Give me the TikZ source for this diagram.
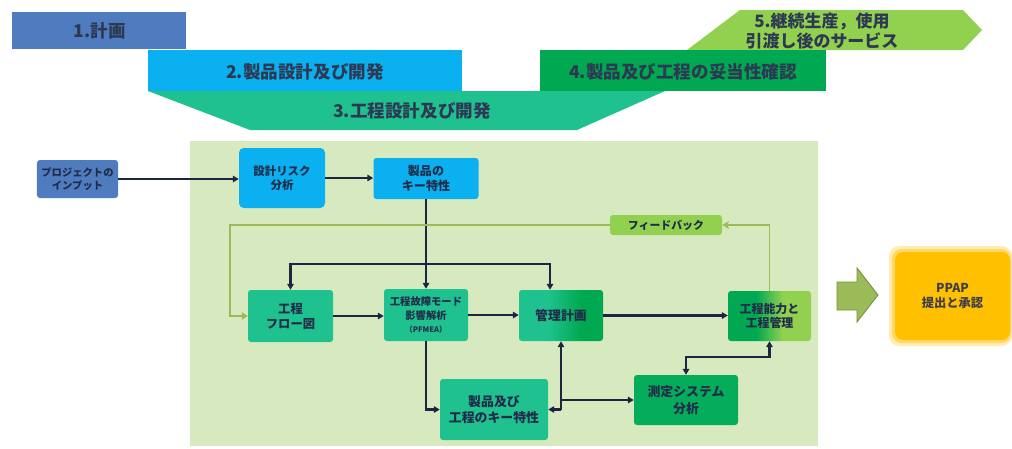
\documentclass[tikz,border=0pt]{standalone}
\usepackage{fontspec}
\setmainfont{Noto Sans CJK JP}
\usetikzlibrary{arrows.meta,calc}
\definecolor{bluea}{HTML}{4F7BBF}
\definecolor{skyb}{HTML}{0AB0F0}
\definecolor{tealc}{HTML}{1FC28F}
\definecolor{greenc}{HTML}{00A851}
\definecolor{lgreen}{HTML}{92D050}
\definecolor{panel}{HTML}{D7EABF}
\definecolor{olive}{HTML}{9BBB59}
\definecolor{oliveb}{HTML}{77933C}
\definecolor{navy}{HTML}{1C2642}
\definecolor{txtc}{HTML}{1F2C4A}
\definecolor{ppapc}{HTML}{FFC000}
\pgfdeclarehorizontalshading{ctrlshade}{100bp}{color(0bp)=(tealc); color(42bp)=(tealc); color(62bp)=(greenc); color(100bp)=(greenc)}
\pgfdeclarehorizontalshading{capshade}{100bp}{color(0bp)=(greenc); color(42bp)=(greenc); color(58bp)=(lgreen); color(100bp)=(lgreen)}
\tikzset{
  box/.style={rounded corners=2.5pt, align=center, text=txtc, inner sep=0pt,
    font=\bfseries\fontsize{9.8}{12.3}\selectfont},
  bigtxt/.style={text=txtc!85!gray, align=center, font=\bfseries\fontsize{15}{18}\selectfont},
  arr/.style={draw=navy, line width=2pt, -{Triangle[length=5pt,width=5.5pt]}},
  fbl/.style={draw=olive, line width=1.6pt},
}
\begin{document}
\begin{tikzpicture}[x=0.03cm,y=-0.03cm]
\useasboundingbox (0,0) rectangle (1012,448);
% phase banners
\fill[tealc] (148,91) -- (665,91) -- (577,130) -- (250,130) -- cycle;
\fill[lgreen] (740,10) -- (963,10) -- (982,30) -- (963,50) -- (687,50) -- cycle;
\fill[bluea] (12,12) rectangle (186,49);
\fill[skyb] (148,50) rectangle (462,91);
\fill[greenc] (540,50) rectangle (826,91);
\node[bigtxt] (p1) at (100,31) {1.計画};
\node[bigtxt] (p2) at (305,72) {2.製品設計及び開発};
\node[bigtxt] (p3) at (412,111) {3.工程設計及び開発};
\node[bigtxt] (p4) at (683,72) {4.製品及び工程の妥当性確認};
\node[bigtxt, font=\bfseries\fontsize{14.5}{17}\selectfont] (p5) at (822,31) {5.継続生産，使用\\引渡し後のサービス};
% panel
\fill[panel] (190,141) rectangle (818,446);
% nodes
\node[box, fill=bluea, minimum width=2.43cm, minimum height=1.14cm, font=\bfseries\fontsize{8.8}{11}\selectfont] (input) at (77.5,179) {プロジェクトの\\インプット};
\node[box, fill=skyb, rounded corners=4pt, minimum width=2.58cm, minimum height=1.8cm] (risk) at (282,178) {設計リスク\\分析};
\node[box, fill=skyb, minimum width=3.15cm, minimum height=1.23cm, font=\bfseries\fontsize{10.3}{12.8}\selectfont] (keyp) at (426,178.5) {製品の\\キー特性};
\node[box, fill=tealc, minimum width=2.55cm, minimum height=1.56cm, font=\bfseries\fontsize{10.5}{13}\selectfont] (flow) at (290.5,316) {工程\\フロー図};
\node[box, fill=tealc, minimum width=2.52cm, minimum height=1.56cm, font=\bfseries\fontsize{8.8}{11.8}\selectfont] (pfmea) at (426,315) {工程故障モード\\影響解析\\{\fontsize{6.5}{11.8}\selectfont（PFMEA）}};
\node[box, shading=ctrlshade, minimum width=2.52cm, minimum height=1.53cm, font=\bfseries\fontsize{11}{13}\selectfont] (ctrl) at (561,315.5) {管理計画};
\node[box, shading=capshade, minimum width=2.49cm, minimum height=1.5cm, font=\bfseries\fontsize{10.2}{12.6}\selectfont] (cap) at (769.5,316) {工程能力と\\工程管理};
\node[box, fill=tealc, minimum width=3.24cm, minimum height=1.83cm, font=\bfseries\fontsize{11}{14}\selectfont] (keypp) at (494,409.5) {製品及び\\工程のキー特性};
\node[box, fill=greenc!85!tealc, minimum width=3.12cm, minimum height=1.5cm, font=\bfseries\fontsize{11}{14}\selectfont] (msa) at (686,400) {測定システム\\分析};
\node[box, fill=lgreen, minimum width=3.36cm, minimum height=0.6cm, font=\bfseries\fontsize{9.3}{11}\selectfont] (fb) at (666,225) {フィードバック};
% PPAP with glow
\fill[ppapc!30, rounded corners=9pt] (889,246) rectangle (1012,346);
\fill[ppapc!60, rounded corners=8pt] (892,249) rectangle (1011,343);
\node[box, fill=ppapc, rounded corners=7pt, minimum width=3.45cm, minimum height=2.64cm, text=txtc!80!brown, font=\bfseries\fontsize{10.5}{13.5}\selectfont] (ppap) at (952.5,296) {PPAP\\提出と承認};
% block arrow
\filldraw[fill=olive, draw=oliveb, line width=0.8pt] (837,282) -- (857,282) -- (857,268) -- (878,295) -- (857,322) -- (857,310) -- (837,310) -- cycle;
% connectors
\draw[arr] (input.east) -- (input.east -| risk.west);
\draw[arr] (risk.east) -- (risk.east -| keyp.west);
\draw[arr] (keyp.south) -- (pfmea.north);
\coordinate (J1) at ($(keyp.south)+(0,64.5)$);
\draw[arr] (J1) -| (flow.north);
\draw[arr] (J1) -| ([xshift=-0.33cm]ctrl.north);
\draw[arr] (flow.east) -- (flow.east -| pfmea.west);
\draw[arr] (pfmea.east) -- (pfmea.east -| ctrl.west);
\draw[arr] (ctrl.east) -- (ctrl.east -| cap.west);
\draw[arr] (pfmea.south) |- (keypp.west);
\coordinate (J2) at (ctrl.south |- keypp.east);
\draw[arr] (J2) -- (keypp.east);
\draw[arr] (J2) -- (ctrl.south);
\draw[arr] (ctrl.south |- msa.west) -- (msa.west);
\draw[arr, {Triangle[length=5pt,width=5.5pt]}-{Triangle[length=5pt,width=5.5pt]}] (msa.north) -- ++(0,-18) -| (cap.south);
% feedback loop
\coordinate (fbL) at (230,225);
\draw[fbl, -{Stealth[length=6pt,width=7pt,open]}] (cap.north) |- (fb.east);
\draw[fbl, -{Triangle[length=5pt,width=6pt]}] (fb.west) -- (fbL) |- (flow.west);
\end{tikzpicture}
\end{document}
